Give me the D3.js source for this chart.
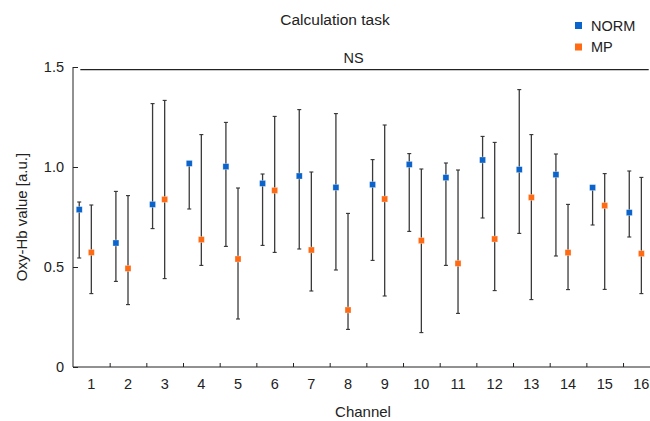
<!DOCTYPE html>
<html>
<head>
<meta charset="utf-8">
<script src="https://cdn.jsdelivr.net/npm/d3@7"></script>
<style>
  body { margin: 0; background: #fff; }
  svg { display: block; font-family: "Liberation Sans", Arial, sans-serif; }
  .axis path, .axis line { stroke: #222; }
  .axis text { font-size: 13px; fill: #222; }
</style>
</head>
<body>
<div id="chart"></div>
<script>
const channels = d3.range(1, 17);

// NORM group: mean, upper and lower error bar ends
const normMean  = [0.787, 0.62, 0.813, 1.018, 1.002, 0.918, 0.955, 0.898, 0.912, 1.013, 0.947, 1.035, 0.987, 0.962, 0.897, 0.772];
const normUpper = [0.825, 0.878, 1.317, 1.02, 1.223, 0.965, 1.287, 1.267, 1.037, 1.067, 1.02, 1.153, 1.387, 1.065, 0.9, 0.98];
const normLower = [0.545, 0.428, 0.692, 0.79, 0.603, 0.608, 0.59, 0.485, 0.533, 0.678, 0.508, 0.745, 0.668, 0.555, 0.71, 0.65];

// MP group
const mpMean  = [0.573, 0.493, 0.838, 0.637, 0.54, 0.883, 0.585, 0.285, 0.84, 0.632, 0.518, 0.64, 0.848, 0.572, 0.807, 0.567];
const mpUpper = [0.81, 0.857, 1.333, 1.162, 0.895, 1.253, 0.975, 0.768, 1.21, 0.99, 0.985, 1.123, 1.162, 0.813, 0.967, 0.948];
const mpLower = [0.367, 0.312, 0.442, 0.508, 0.24, 0.573, 0.38, 0.188, 0.355, 0.172, 0.268, 0.382, 0.337, 0.387, 0.388, 0.367];

const yTicks = [0, 0.5, 1.0, 1.5];
const yTickLabels = ["0", "0.5", "1.0", "1.5"];
const nsLevel = 1.487;

const series = [
  {name: "NORM", color: "#0a64cc", mean: normMean, upper: normUpper, lower: normLower, shift: -0.33},
  {name: "MP",   color: "#ff6a13", mean: mpMean,   upper: mpUpper,   lower: mpLower,   shift: 0}
];

const width = 650, height = 421;
const margin = {top: 67, left: 73, bottom: 54};
const plotW = 586.7;
const plotH = height - margin.top - margin.bottom;
const fs = "14.5px";

const svg = d3.select("#chart").append("svg")
  .attr("width", width)
  .attr("height", height);

const g = svg.append("g")
  .attr("transform", `translate(${margin.left},${margin.top})`);

const x = d3.scaleLinear().domain([0.5, 16.5]).range([0, plotW]);
const y = d3.scaleLinear().domain([0, 1.5]).range([plotH, 0]);

// y axis, ticks pointing inward
g.append("g")
  .attr("class", "axis")
  .call(d3.axisLeft(y).tickValues(yTicks).tickSize(-5).tickPadding(9)
    .tickFormat((d, i) => yTickLabels[i]))
  .call(a => a.select(".domain").attr("d", `M0,${y(1.5)}V${plotH}`))
  .selectAll("text").style("font-size", fs);

// x axis: ticks at channel boundaries, labels at channel centres
g.append("g")
  .attr("class", "axis")
  .attr("transform", `translate(0,${plotH})`)
  .call(d3.axisBottom(x).tickValues(d3.range(1.5, 16.5, 1)).tickSize(-4).tickFormat(""))
  .call(a => a.select(".domain").attr("d", `M0,0H${plotW}`));

g.append("g")
  .attr("transform", `translate(0,${plotH})`)
  .selectAll("text")
  .data(channels)
  .join("text")
  .attr("x", d => x(d))
  .attr("y", 22)
  .attr("text-anchor", "middle")
  .style("font-size", fs)
  .attr("fill", "#222")
  .text(d => d);

// error bars and markers
series.forEach(s => {
  const grp = g.append("g");
  const rows = channels.map((c, i) => ({c, m: s.mean[i], hi: s.upper[i], lo: s.lower[i]}));
  const cx = d => x(d.c + s.shift);

  grp.selectAll("line.bar").data(rows).join("line")
    .attr("x1", cx).attr("x2", cx)
    .attr("y1", d => y(d.hi)).attr("y2", d => y(d.lo))
    .attr("stroke", "#3a3a3a").attr("stroke-width", 1.3);

  ["hi", "lo"].forEach(k => {
    grp.selectAll("line.cap-" + k).data(rows).join("line")
      .attr("x1", d => cx(d) - 2).attr("x2", d => cx(d) + 2)
      .attr("y1", d => y(d[k])).attr("y2", d => y(d[k]))
      .attr("stroke", "#333").attr("stroke-width", 1.1);
  });

  grp.selectAll("rect").data(rows).join("rect")
    .attr("x", d => cx(d) - 3)
    .attr("y", d => y(d.m) - 3)
    .attr("width", 6).attr("height", 6)
    .attr("fill", s.color)
    .attr("stroke", "#fff").attr("stroke-opacity", 0.5).attr("stroke-width", 0.6);
});

// NS significance line
g.append("line")
  .attr("x1", x(0.7)).attr("x2", x(16.2))
  .attr("y1", y(nsLevel)).attr("y2", y(nsLevel))
  .attr("stroke", "#222").attr("stroke-width", 1.2);

g.append("text")
  .attr("x", x(8.15)).attr("y", y(nsLevel) - 7)
  .attr("text-anchor", "middle")
  .style("font-size", fs).attr("fill", "#222")
  .text("NS");

// title
svg.append("text")
  .attr("x", 335).attr("y", 25)
  .attr("text-anchor", "middle")
  .style("font-size", "15.5px").attr("fill", "#222")
  .text("Calculation task");

// axis labels
svg.append("text")
  .attr("x", 363).attr("y", 417)
  .attr("text-anchor", "middle")
  .style("font-size", "15px").attr("fill", "#222")
  .text("Channel");

svg.append("text")
  .attr("transform", `translate(27,${margin.top + plotH / 2}) rotate(-90)`)
  .attr("text-anchor", "middle")
  .style("font-size", "15px").attr("fill", "#222")
  .text("Oxy-Hb value [a.u.]");

// legend
const legend = svg.append("g").attr("transform", "translate(575,22)");
series.forEach((s, i) => {
  const row = legend.append("g").attr("transform", `translate(0,${i * 21.5})`);
  row.append("rect").attr("x", 0).attr("y", 0).attr("width", 7).attr("height", 7).attr("fill", s.color);
  row.append("text").attr("x", 16).attr("y", 8.5)
    .style("font-size", fs).attr("fill", "#222")
    .text(s.name);
});
</script>
</body>
</html>
